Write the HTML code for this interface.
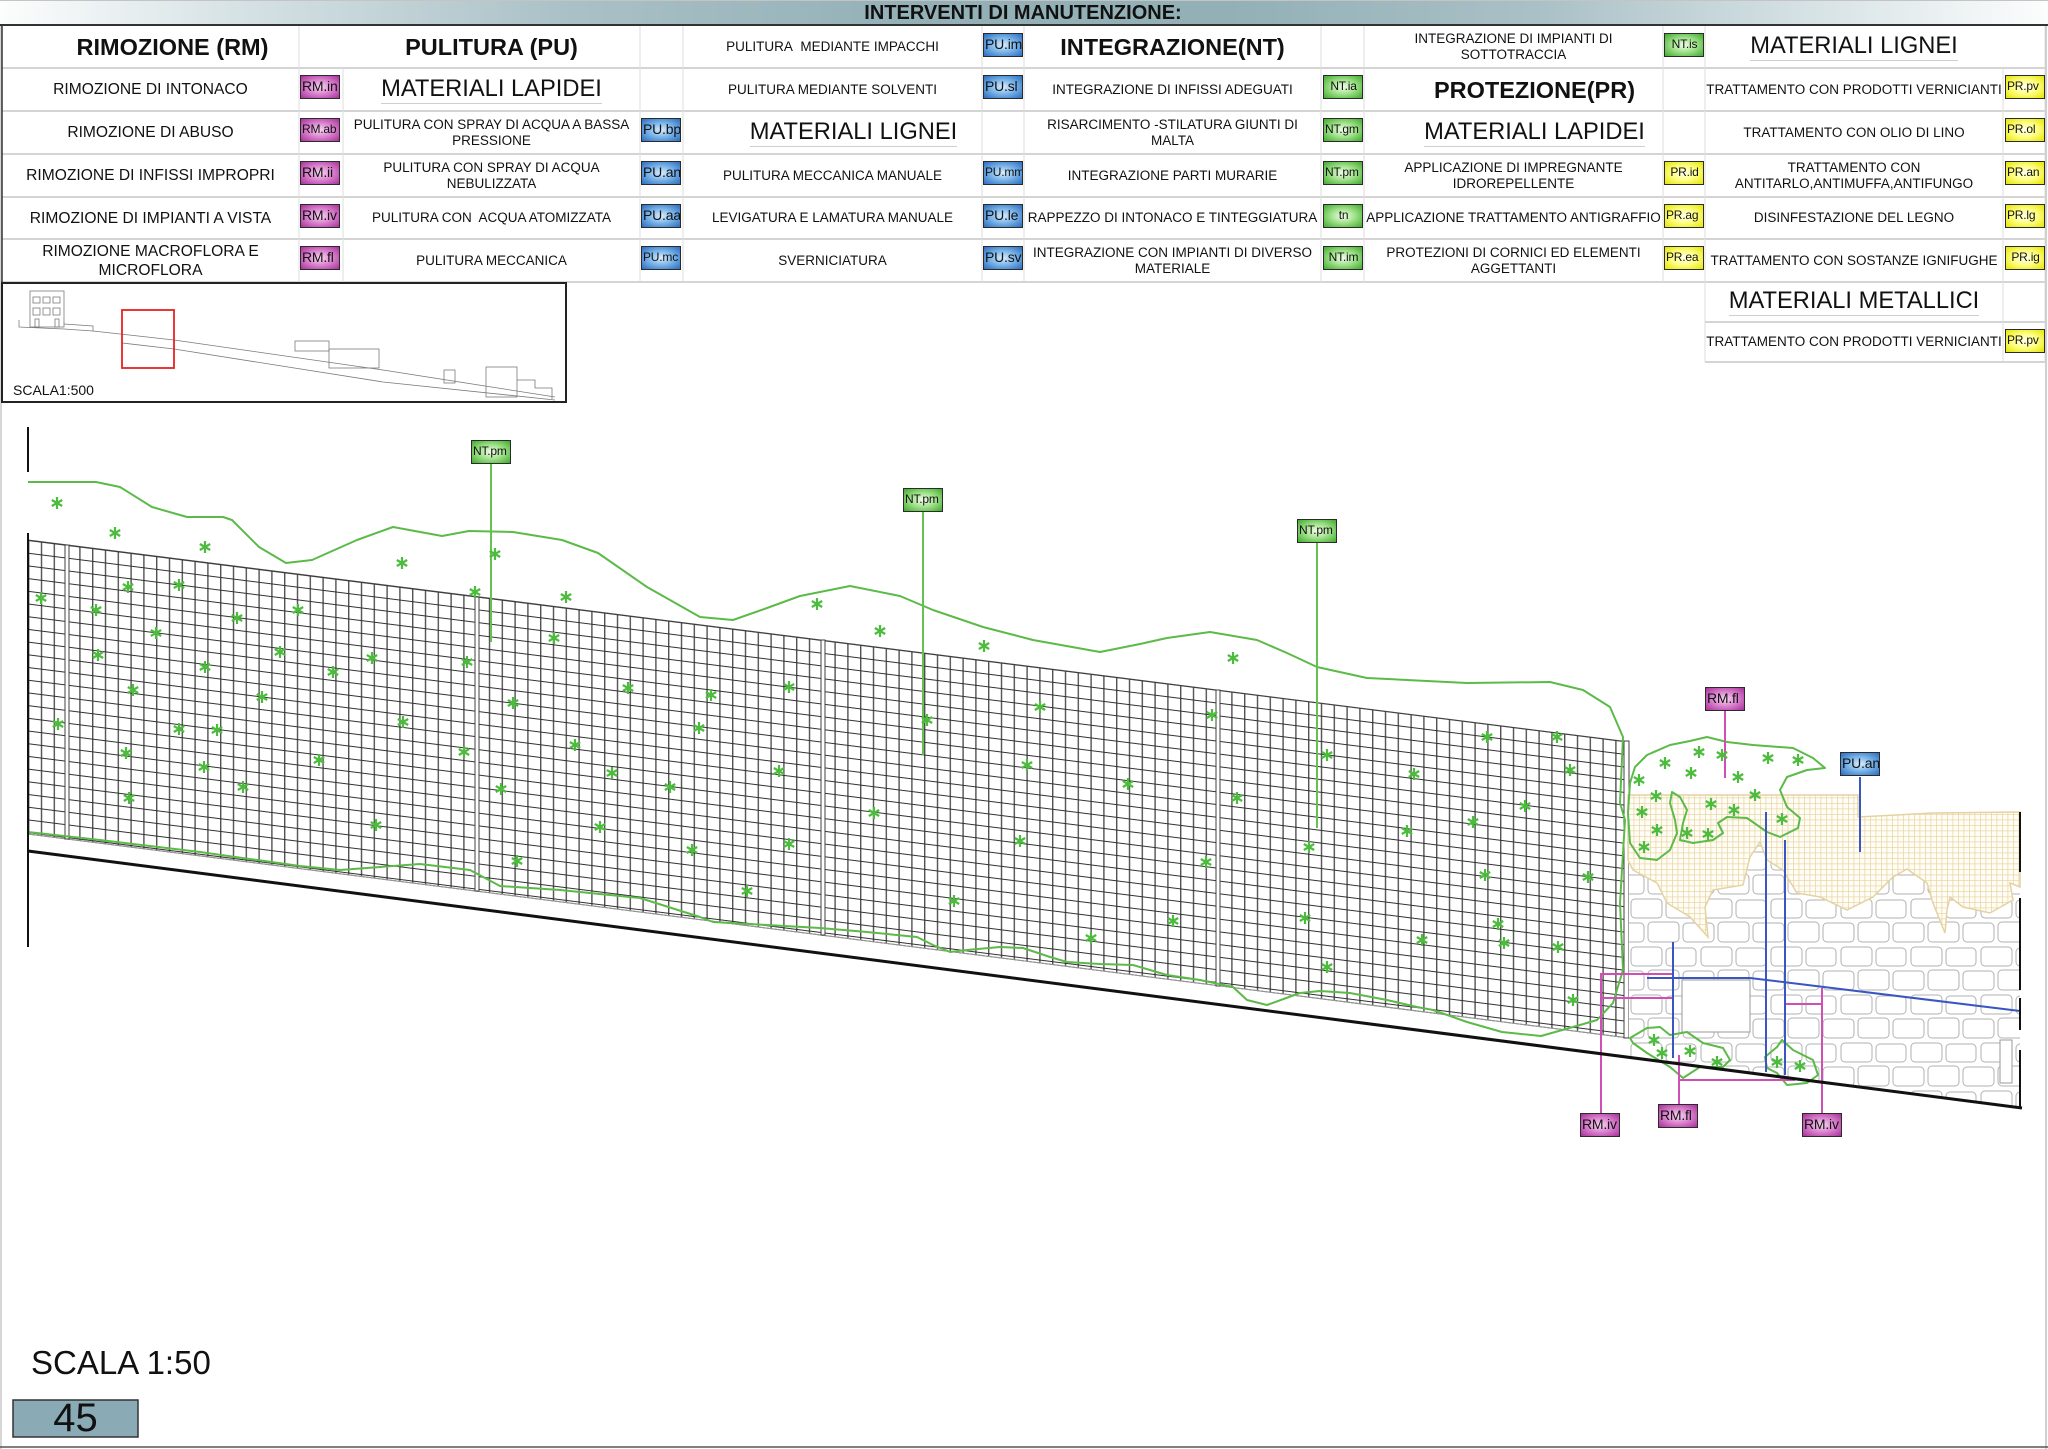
<!DOCTYPE html>
<html><head><meta charset="utf-8">
<style>
html,body{margin:0;padding:0;}
body{width:2048px;height:1449px;position:relative;background:#fff;overflow:hidden;font-family:"Liberation Sans",Arial,sans-serif;color:#111;}
.hdr{position:absolute;left:0;top:0;width:2048px;height:23px;border-top:1px solid #c4c4c4;border-bottom:2px solid #333;background:linear-gradient(90deg,#fcfdfd 0%,#d5e1e4 12%,#a9c0c6 28%,#93b0b7 45%,#93b0b7 60%,#a9c0c6 75%,#d5e1e4 88%,#fcfdfd 100%);}
.hdr div{position:absolute;left:823px;width:400px;top:0;height:23px;line-height:24px;text-align:center;font-weight:bold;font-size:20px;color:#111;}
.t{position:absolute;display:flex;align-items:center;justify-content:center;text-align:center;white-space:nowrap;font-size:13.5px;line-height:16px;}
.t0{font-size:15.6px;line-height:19px;}
.H{font-weight:bold;font-size:23.5px;}
.M{font-size:23.7px;}
.M span{border-bottom:1.5px solid #cfcfcf;padding-bottom:1px;line-height:26px;}
.b{position:absolute;width:40px;height:24px;box-sizing:border-box;border:1.5px solid #2b2b2b;font-size:14px;line-height:20px;padding-left:1px;overflow:hidden;white-space:nowrap;color:#111;letter-spacing:-0.2px;}
.s{font-size:12px;}
.rm{background:radial-gradient(ellipse at 50% 50%,#f6d6f0 0%,#dc86d0 45%,#a8309a 100%);}
.pu{background:radial-gradient(ellipse at 50% 50%,#dceefc 0%,#7cb6ea 45%,#2a6cc0 100%);}
.nt{background:radial-gradient(ellipse at 50% 50%,#f2fdea 0%,#a2e28c 45%,#3faa2c 100%);}
.pr{background:radial-gradient(ellipse at 50% 50%,#ffffea 0%,#ffff86 45%,#e4e400 100%);}
</style></head><body>

<svg width="2048" height="1449" style="position:absolute;left:0;top:0" xmlns="http://www.w3.org/2000/svg">
<defs>
 <pattern id="mesh" patternUnits="userSpaceOnUse" width="12.8" height="12.7" patternTransform="translate(28,540) skewY(7.18)">
  <rect width="12.8" height="12.7" fill="#fff"/>
  <line x1="0.7" y1="0" x2="0.7" y2="12.7" stroke="#525252" stroke-width="1.4"/>
  <line x1="0" y1="0.5" x2="12.8" y2="0.5" stroke="#303030" stroke-width="1"/>
 </pattern>
 <pattern id="stone" patternUnits="userSpaceOnUse" width="70" height="48" patternTransform="translate(1629,801)">
  <rect width="70" height="48" fill="#fff"/>
  <g fill="#fff" stroke="#b2b2b2" stroke-width="1">
   <rect x="2" y="2" width="31" height="19" rx="4"/>
   <rect x="37" y="3" width="30" height="18" rx="4"/>
   <rect x="-16" y="26" width="31" height="19" rx="4"/>
   <rect x="19" y="25" width="31" height="20" rx="4"/>
   <rect x="54" y="26" width="31" height="19" rx="4"/>
  </g>
 </pattern>
 <pattern id="tan" patternUnits="userSpaceOnUse" width="5.5" height="5.5">
  <rect width="5.5" height="5.5" fill="#fffdf5"/>
  <path d="M0,0.4H5.5M0.4,0V5.5" stroke="#e8d6a8" stroke-width="0.8"/>
 </pattern>
 <g id="k" stroke="#4dbb3d" stroke-width="2.2"><path d="M0,-6V6M-5.2,-3L5.2,3M-5.2,3L5.2,-3"/></g>
</defs>

<!-- page frame -->
<line x1="1" y1="0" x2="1" y2="1449" stroke="#c8c8c8" stroke-width="1.5"/>
<line x1="2046" y1="0" x2="2046" y2="1449" stroke="#c0c0c0" stroke-width="1.5"/>
<line x1="0" y1="1447" x2="2048" y2="1447" stroke="#555" stroke-width="1.5"/>

<!-- table lines -->
<g stroke="#d4d4d4" stroke-width="2">
 <line x1="2" y1="68" x2="2045" y2="68"/>
 <line x1="2" y1="111" x2="2045" y2="111"/>
 <line x1="2" y1="154" x2="2045" y2="154"/>
 <line x1="2" y1="197" x2="2045" y2="197"/>
 <line x1="2" y1="239" x2="2045" y2="239"/>
 <line x1="2" y1="282" x2="2045" y2="282"/>
 <line x1="1705" y1="322" x2="2045" y2="322"/>
 <line x1="1705" y1="362" x2="2045" y2="362"/>
</g>
<g stroke="#dedede" stroke-width="1">
 <line x1="299" y1="26" x2="299" y2="282"/>
 <line x1="343" y1="68" x2="343" y2="282"/>
 <line x1="640" y1="26" x2="640" y2="282"/>
 <line x1="683" y1="26" x2="683" y2="282"/>
 <line x1="982" y1="26" x2="982" y2="282"/>
 <line x1="1024" y1="26" x2="1024" y2="282"/>
 <line x1="1321" y1="26" x2="1321" y2="282"/>
 <line x1="1364" y1="26" x2="1364" y2="282"/>
 <line x1="1663" y1="26" x2="1663" y2="282"/>
 <line x1="1705" y1="26" x2="1705" y2="362"/>
 <line x1="2003" y1="68" x2="2003" y2="362"/>
 <line x1="2045" y1="26" x2="2045" y2="362"/>
</g>
<line x1="2" y1="26" x2="2" y2="282" stroke="#333" stroke-width="1.5"/>

<!-- site plan -->
<rect x="2" y="283" width="564" height="119" fill="#fff" stroke="#222" stroke-width="2"/>
<g fill="none" stroke="#7a7a7a" stroke-width="0.8">
 <rect x="30" y="291" width="34" height="36"/>
 <rect x="33" y="297" width="7" height="6"/><rect x="43" y="297" width="7" height="6"/><rect x="53" y="297" width="7" height="6"/>
 <rect x="33" y="308" width="7" height="7"/><rect x="43" y="308" width="7" height="7"/><rect x="53" y="308" width="7" height="7"/>
 <rect x="35" y="319" width="4" height="8"/><rect x="55" y="319" width="4" height="8"/>
 <polyline points="19,320 19,327 64,329 93,331 174,340 383,370 555,397"/>
 <polyline points="64,324 93,326 93,331"/>
 <polyline points="122,343 174,349 383,382 555,400"/>
 <rect x="295" y="341" width="34" height="10"/>
 <rect x="329" y="349" width="50" height="19"/>
 <rect x="444" y="370" width="11" height="13"/>
 <rect x="486" y="367" width="31" height="30"/>
 <polyline points="517,380 535,380 535,388 552,388 552,399"/>
</g>
<rect x="122" y="310" width="52" height="58" fill="none" stroke="#e52222" stroke-width="1.8"/>
<text x="13" y="395" font-family="Liberation Sans, Arial, sans-serif" font-size="14" fill="#111">SCALA1:500</text>

<!-- mesh -->
<polygon points="28,540 1629,742 1629,1038 28,834" fill="url(#mesh)" stroke="#444" stroke-width="1"/>
<line x1="28" y1="834" x2="1629" y2="1038" stroke="#999" stroke-width="1"/>
<g fill="#fff" stroke="#404040" stroke-width="1">
 <rect x="65" y="545" width="4" height="294"/>
 <rect x="475" y="597" width="4" height="294"/>
 <rect x="821" y="640" width="4" height="295"/>
 <rect x="1216" y="690" width="4" height="296"/>
 <rect x="1624" y="741" width="5" height="297"/>
</g>

<!-- stone wall -->
<polygon points="1629,800 1858,800 1858,817 2020,812 2020,1108 1629,1057" fill="url(#stone)"/>
<polygon points="1628,795 1858,795 1858,817 1933,813 2020,812 2020,887 2010,883 2013,900 1990,913 1963,907 1950,897 1947,910 1945,933 1933,903 1927,883 1907,869 1893,877 1873,897 1847,910 1820,897 1797,893 1783,870 1767,860 1760,842 1750,857 1743,885 1713,890 1705,907 1708,937 1690,917 1667,903 1657,883 1633,870 1628,860" fill="url(#tan)" stroke="#e4d2a2" stroke-width="1.5"/>
<rect x="1682" y="980" width="68" height="52" fill="#fff" stroke="#9a9a9a" stroke-width="1"/>
<rect x="2000" y="1040" width="12" height="43" fill="#fff" stroke="#9a9a9a" stroke-width="1"/>

<!-- green outlines -->
<g fill="none" stroke="#5cba48" stroke-width="2" stroke-linejoin="round">
 <polyline points="28,482 96,482 120,487 152,507 187,517 223,517 232,520 259,547 286,563 312,560 357,540 393,527 442,536 469,531 513,532 562,540 598,553 647,587 700,617 733,620 767,608 800,596 850,586 900,596 933,610 983,627 1033,640 1100,652 1140,644 1167,638 1210,632 1257,640 1287,653 1317,667 1367,678 1467,683 1550,682 1583,690 1610,707 1623,737 1620,803 1625,820 1620,903 1623,970 1613,1003 1597,1020 1580,1025 1541,1036 1502,1032 1467,1022 1433,1010 1417,1007 1387,1000 1350,993 1320,991 1300,993 1267,1005 1247,1000 1233,987 1200,980 1167,975 1133,965 1100,964 1067,962 1050,957 1023,948 1000,947 967,950 950,952 933,945 917,937 867,932 820,928 767,925 713,922 700,917 640,898 560,890 500,886 470,870 420,864 340,870 300,866 200,852 100,840 28,832"/>
 <polygon points="1630,783 1635,767 1647,755 1670,745 1690,741 1707,737 1727,742 1753,745 1793,748 1813,758 1825,768 1807,770 1787,777 1780,790 1787,807 1800,818 1798,828 1780,837 1767,832 1747,818 1727,817 1718,823 1723,833 1713,840 1693,843 1680,840 1683,823 1687,810 1680,797 1672,792 1670,803 1675,820 1677,833 1670,850 1657,860 1640,858 1630,843 1628,813"/>
 <polygon points="1630,1038 1647,1028 1660,1027 1670,1035 1687,1032 1703,1043 1723,1048 1730,1060 1723,1067 1700,1067 1683,1078 1670,1067 1647,1053 1633,1043"/>
 <polygon points="1765,1057 1777,1047 1782,1040 1793,1050 1813,1060 1818,1075 1807,1083 1787,1085 1777,1073 1767,1068"/>
</g>

<!-- leader lines -->
<g stroke="#66c24f" stroke-width="2">
 <line x1="491" y1="464" x2="491" y2="642"/>
 <line x1="923" y1="511" x2="923" y2="755"/>
 <line x1="1317" y1="542" x2="1317" y2="828"/>
</g>
<g stroke="#d04fb5" stroke-width="2" fill="none">
 <line x1="1725" y1="711" x2="1725" y2="778"/>
 <polyline points="1673,974 1601,974 1601,1113"/>
 <line x1="1601" y1="998" x2="1673" y2="998"/>
 <line x1="1679" y1="1055" x2="1679" y2="1104"/>
 <line x1="1679" y1="1080" x2="1795" y2="1080"/>
 <line x1="1822" y1="988" x2="1822" y2="1113"/>
 <line x1="1785" y1="1004" x2="1822" y2="1004"/>
</g>
<g stroke="#3a56c0" stroke-width="2" fill="none">
 <line x1="1860" y1="777" x2="1860" y2="852"/>
 <line x1="1673" y1="942" x2="1673" y2="1058"/>
 <line x1="1766" y1="812" x2="1766" y2="1072"/>
 <line x1="1785" y1="840" x2="1785" y2="1075"/>
 <polyline points="1647,978 1750,978 2020,1011"/>
</g>

<!-- asterisks -->
<g>
<use href="#k" x="57" y="503"/><use href="#k" x="115" y="533"/><use href="#k" x="205" y="547"/><use href="#k" x="402" y="563"/><use href="#k" x="495" y="554"/><use href="#k" x="566" y="597"/><use href="#k" x="475" y="592"/><use href="#k" x="817" y="604"/><use href="#k" x="880" y="631"/><use href="#k" x="984" y="646"/><use href="#k" x="1233" y="658"/>
<use href="#k" x="41" y="598"/><use href="#k" x="128" y="587"/><use href="#k" x="179" y="585"/><use href="#k" x="96" y="610"/><use href="#k" x="237" y="618"/><use href="#k" x="298" y="610"/><use href="#k" x="156" y="633"/><use href="#k" x="280" y="652"/><use href="#k" x="98" y="655"/><use href="#k" x="205" y="667"/><use href="#k" x="372" y="658"/><use href="#k" x="467" y="662"/><use href="#k" x="333" y="672"/><use href="#k" x="554" y="638"/><use href="#k" x="628" y="688"/><use href="#k" x="133" y="690"/><use href="#k" x="262" y="697"/><use href="#k" x="513" y="703"/><use href="#k" x="58" y="724"/><use href="#k" x="179" y="729"/><use href="#k" x="217" y="730"/><use href="#k" x="403" y="722"/><use href="#k" x="699" y="728"/><use href="#k" x="126" y="753"/><use href="#k" x="319" y="760"/><use href="#k" x="464" y="752"/><use href="#k" x="575" y="745"/><use href="#k" x="204" y="767"/><use href="#k" x="612" y="773"/><use href="#k" x="243" y="787"/><use href="#k" x="670" y="787"/><use href="#k" x="501" y="789"/><use href="#k" x="129" y="798"/><use href="#k" x="376" y="825"/><use href="#k" x="517" y="861"/><use href="#k" x="600" y="827"/><use href="#k" x="692" y="850"/>
<use href="#k" x="711" y="695"/><use href="#k" x="789" y="687"/><use href="#k" x="927" y="720"/><use href="#k" x="1040" y="707"/><use href="#k" x="1027" y="765"/><use href="#k" x="779" y="771"/><use href="#k" x="874" y="813"/><use href="#k" x="1020" y="841"/><use href="#k" x="789" y="844"/><use href="#k" x="747" y="891"/><use href="#k" x="954" y="901"/><use href="#k" x="1091" y="938"/>
<use href="#k" x="1212" y="715"/><use href="#k" x="1327" y="755"/><use href="#k" x="1487" y="737"/><use href="#k" x="1557" y="737"/><use href="#k" x="1128" y="784"/><use href="#k" x="1237" y="798"/><use href="#k" x="1414" y="774"/><use href="#k" x="1570" y="770"/><use href="#k" x="1525" y="806"/><use href="#k" x="1473" y="822"/><use href="#k" x="1407" y="831"/><use href="#k" x="1309" y="847"/><use href="#k" x="1206" y="862"/><use href="#k" x="1485" y="875"/><use href="#k" x="1588" y="877"/><use href="#k" x="1173" y="921"/><use href="#k" x="1305" y="918"/><use href="#k" x="1498" y="924"/><use href="#k" x="1504" y="943"/><use href="#k" x="1422" y="940"/><use href="#k" x="1558" y="947"/><use href="#k" x="1327" y="967"/><use href="#k" x="1573" y="1000"/>
<use href="#k" x="1665" y="763"/><use href="#k" x="1699" y="752"/><use href="#k" x="1722" y="755"/><use href="#k" x="1768" y="758"/><use href="#k" x="1798" y="760"/><use href="#k" x="1639" y="780"/><use href="#k" x="1691" y="773"/><use href="#k" x="1738" y="777"/><use href="#k" x="1656" y="796"/><use href="#k" x="1755" y="795"/><use href="#k" x="1711" y="804"/><use href="#k" x="1734" y="810"/><use href="#k" x="1642" y="812"/><use href="#k" x="1782" y="819"/><use href="#k" x="1657" y="830"/><use href="#k" x="1687" y="833"/><use href="#k" x="1708" y="834"/><use href="#k" x="1644" y="847"/><use href="#k" x="1654" y="1040"/><use href="#k" x="1662" y="1053"/><use href="#k" x="1690" y="1051"/><use href="#k" x="1717" y="1062"/><use href="#k" x="1777" y="1062"/><use href="#k" x="1800" y="1066"/>
</g>

<!-- black lines -->
<line x1="28" y1="851" x2="2022" y2="1108" stroke="#111" stroke-width="3"/>
<g stroke="#111" stroke-width="2">
 <line x1="28" y1="427" x2="28" y2="472"/>
 <line x1="28" y1="533" x2="28" y2="947"/>
 <line x1="2020" y1="812" x2="2020" y2="872"/>
 <line x1="2020" y1="898" x2="2020" y2="990"/>
 <line x1="2020" y1="998" x2="2020" y2="1030"/>
 <line x1="2020" y1="1050" x2="2020" y2="1108"/>
</g>

<!-- bottom page number box -->
<rect x="13" y="1400" width="125" height="37" fill="#8aabb5" stroke="#333" stroke-width="1.5"/>
</svg>

<div class="hdr"><div>INTERVENTI DI MANUTENZIONE:</div></div>

<!-- row 0 -->
<div class="t H" style="left:2px;top:26px;width:341px;height:42px">RIMOZIONE (RM)</div>
<div class="t H" style="left:343px;top:26px;width:297px;height:42px">PULITURA (PU)</div>
<div class="t" style="left:683px;top:26px;width:299px;height:42px">PULITURA&nbsp; MEDIANTE IMPACCHI</div>
<div class="t H" style="left:1024px;top:26px;width:297px;height:42px">INTEGRAZIONE(NT)</div>
<div class="t" style="left:1364px;top:26px;width:299px;height:42px">INTEGRAZIONE DI IMPIANTI DI<br>SOTTOTRACCIA</div>
<div class="t M" style="left:1705px;top:26px;width:298px;height:42px"><span>MATERIALI LIGNEI</span></div>

<!-- row 1 -->
<div class="t t0" style="left:2px;top:68px;width:297px;height:43px">RIMOZIONE DI INTONACO</div>
<div class="t M" style="left:343px;top:68px;width:297px;height:43px"><span>MATERIALI LAPIDEI</span></div>
<div class="t" style="left:683px;top:68px;width:299px;height:43px">PULITURA MEDIANTE SOLVENTI</div>
<div class="t" style="left:1024px;top:68px;width:297px;height:43px">INTEGRAZIONE DI INFISSI ADEGUATI</div>
<div class="t H" style="left:1364px;top:68px;width:341px;height:43px">PROTEZIONE(PR)</div>
<div class="t" style="left:1705px;top:68px;width:298px;height:43px">TRATTAMENTO CON PRODOTTI VERNICIANTI</div>

<!-- row 2 -->
<div class="t t0" style="left:2px;top:111px;width:297px;height:43px">RIMOZIONE DI ABUSO</div>
<div class="t" style="left:343px;top:111px;width:297px;height:43px">PULITURA CON SPRAY DI ACQUA A BASSA<br>PRESSIONE</div>
<div class="t M" style="left:683px;top:111px;width:341px;height:43px"><span>MATERIALI LIGNEI</span></div>
<div class="t" style="left:1024px;top:111px;width:297px;height:43px">RISARCIMENTO -STILATURA GIUNTI DI<br>MALTA</div>
<div class="t M" style="left:1364px;top:111px;width:341px;height:43px"><span>MATERIALI LAPIDEI</span></div>
<div class="t" style="left:1705px;top:111px;width:298px;height:43px">TRATTAMENTO CON OLIO DI LINO</div>

<!-- row 3 -->
<div class="t t0" style="left:2px;top:154px;width:297px;height:43px">RIMOZIONE DI INFISSI IMPROPRI</div>
<div class="t" style="left:343px;top:154px;width:297px;height:43px">PULITURA CON SPRAY DI ACQUA<br>NEBULIZZATA</div>
<div class="t" style="left:683px;top:154px;width:299px;height:43px">PULITURA MECCANICA MANUALE</div>
<div class="t" style="left:1024px;top:154px;width:297px;height:43px">INTEGRAZIONE PARTI MURARIE</div>
<div class="t" style="left:1364px;top:154px;width:299px;height:43px">APPLICAZIONE DI IMPREGNANTE<br>IDROREPELLENTE</div>
<div class="t" style="left:1705px;top:154px;width:298px;height:43px">TRATTAMENTO CON<br>ANTITARLO,ANTIMUFFA,ANTIFUNGO</div>

<!-- row 4 -->
<div class="t t0" style="left:2px;top:197px;width:297px;height:42px">RIMOZIONE DI IMPIANTI A VISTA</div>
<div class="t" style="left:343px;top:197px;width:297px;height:42px">PULITURA CON&nbsp; ACQUA ATOMIZZATA</div>
<div class="t" style="left:683px;top:197px;width:299px;height:42px">LEVIGATURA E LAMATURA MANUALE</div>
<div class="t" style="left:1024px;top:197px;width:297px;height:42px">RAPPEZZO DI INTONACO E TINTEGGIATURA</div>
<div class="t" style="left:1364px;top:197px;width:299px;height:42px">APPLICAZIONE TRATTAMENTO ANTIGRAFFIO</div>
<div class="t" style="left:1705px;top:197px;width:298px;height:42px">DISINFESTAZIONE DEL LEGNO</div>

<!-- row 5 -->
<div class="t t0" style="left:2px;top:239px;width:297px;height:43px">RIMOZIONE MACROFLORA E<br>MICROFLORA</div>
<div class="t" style="left:343px;top:239px;width:297px;height:43px">PULITURA MECCANICA</div>
<div class="t" style="left:683px;top:239px;width:299px;height:43px">SVERNICIATURA</div>
<div class="t" style="left:1024px;top:239px;width:297px;height:43px">INTEGRAZIONE CON IMPIANTI DI DIVERSO<br>MATERIALE</div>
<div class="t" style="left:1364px;top:239px;width:299px;height:43px">PROTEZIONI DI CORNICI ED ELEMENTI<br>AGGETTANTI</div>
<div class="t" style="left:1705px;top:239px;width:298px;height:43px">TRATTAMENTO CON SOSTANZE IGNIFUGHE</div>

<!-- rows 6-7 -->
<div class="t M" style="left:1705px;top:282px;width:298px;height:40px"><span>MATERIALI METALLICI</span></div>
<div class="t" style="left:1705px;top:322px;width:298px;height:40px">TRATTAMENTO CON PRODOTTI VERNICIANTI</div>

<!-- table badges -->
<div class="b pu" style="left:983px;top:33px">PU.im</div>
<div class="b nt s" style="left:1664px;top:33px;text-align:center">NT.is</div>

<div class="b rm" style="left:300px;top:75px">RM.in</div>
<div class="b pu" style="left:983px;top:75px">PU.sl</div>
<div class="b nt s" style="left:1323px;top:75px;text-align:center">NT.ia</div>
<div class="b pr s" style="left:2005px;top:75px">PR.pv</div>

<div class="b rm s" style="left:300px;top:118px">RM.ab</div>
<div class="b pu" style="left:641px;top:118px">PU.bp</div>
<div class="b nt s" style="left:1323px;top:118px">NT.gm</div>
<div class="b pr s" style="left:2005px;top:118px">PR.ol</div>

<div class="b rm" style="left:300px;top:161px">RM.ii</div>
<div class="b pu" style="left:641px;top:161px">PU.an</div>
<div class="b pu s" style="left:983px;top:161px">PU.mm</div>
<div class="b nt s" style="left:1323px;top:161px">NT.pm</div>
<div class="b pr s" style="left:1664px;top:161px;text-align:center">PR.id</div>
<div class="b pr s" style="left:2005px;top:161px">PR.an</div>

<div class="b rm" style="left:300px;top:204px">RM.iv</div>
<div class="b pu" style="left:641px;top:204px">PU.aa</div>
<div class="b pu" style="left:983px;top:204px">PU.le</div>
<div class="b nt s" style="left:1323px;top:204px;text-align:center">tn</div>
<div class="b pr s" style="left:1664px;top:204px">PR.ag</div>
<div class="b pr s" style="left:2005px;top:204px">PR.lg</div>

<div class="b rm" style="left:300px;top:246px">RM.fl</div>
<div class="b pu s" style="left:641px;top:246px">PU.mc</div>
<div class="b pu" style="left:983px;top:246px">PU.sv</div>
<div class="b nt s" style="left:1323px;top:246px;text-align:center">NT.im</div>
<div class="b pr s" style="left:1664px;top:246px">PR.ea</div>
<div class="b pr s" style="left:2005px;top:246px;text-align:center">PR.ig</div>

<div class="b pr s" style="left:2005px;top:329px">PR.pv</div>

<!-- drawing badges -->
<div class="b nt s" style="left:471px;top:440px">NT.pm</div>
<div class="b nt s" style="left:903px;top:488px">NT.pm</div>
<div class="b nt s" style="left:1297px;top:519px">NT.pm</div>
<div class="b rm" style="left:1705px;top:687px">RM.fl</div>
<div class="b pu" style="left:1840px;top:752px">PU.an</div>
<div class="b rm" style="left:1580px;top:1113px">RM.iv</div>
<div class="b rm" style="left:1658px;top:1104px">RM.fl</div>
<div class="b rm" style="left:1802px;top:1113px">RM.iv</div>

<!-- scale & page number -->
<div style="position:absolute;left:31px;top:1344px;font-size:33px;line-height:38px;color:#111;">SCALA 1:50</div>
<div style="position:absolute;left:13px;top:1397px;width:125px;height:42px;text-align:center;font-size:40px;line-height:42px;color:#111;">45</div>

</body></html>
